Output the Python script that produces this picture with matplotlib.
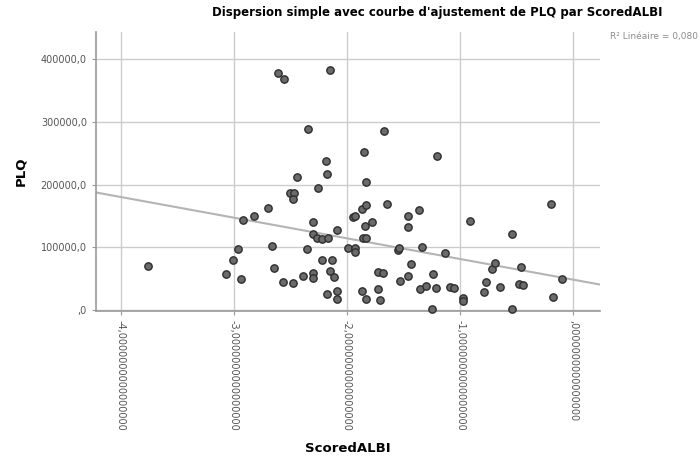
import numpy as np
import matplotlib
matplotlib.use("Agg")
import matplotlib.pyplot as plt
from matplotlib.ticker import FuncFormatter

# ---------- data ----------
score_albi = [
    -3.763, -3.073, -3.012, -2.967, -2.941, -2.923, -2.821, -2.702, -2.667, -2.649,
    -2.614, -2.555, -2.564, -2.502, -2.472, -2.481, -2.476, -2.443, -2.387, -2.357,
    -2.346, -2.304, -2.304, -2.299, -2.299, -2.260, -2.263, -2.225, -2.222, -2.187,
    -2.178, -2.172, -2.175, -2.151, -2.149, -2.134, -2.113, -2.087, -2.089, -2.089,
    -1.992, -1.945, -1.930, -1.930, -1.930, -1.871, -1.871, -1.857, -1.833, -1.851,
    -1.842, -1.836, -1.836, -1.836, -1.777, -1.729, -1.680, -1.724, -1.706, -1.676,
    -1.647, -1.550, -1.538, -1.532, -1.462, -1.459, -1.459, -1.432, -1.367, -1.355,
    -1.335, -1.298, -1.245, -1.236, -1.211, -1.203, -1.132, -1.090, -1.055, -0.971,
    -0.973, -0.909, -0.792, -0.767, -0.714, -0.694, -0.648, -0.542, -0.542, -0.483,
    -0.443, -0.460, -0.193, -0.175, -0.100,
]
plq = [
    70180, 56940, 79750, 96820, 49440, 144030, 150410, 162210, 102080, 66510,
    377540, 368440, 45140, 187090, 186140, 177520, 43540, 212140, 54230, 96820,
    288210, 140360, 121220, 59490, 50560, 194590, 114360, 113720, 79270, 237170,
    216920, 115320, 25040, 382320, 62200, 79270, 52630, 128080, 30300, 18020,
    98890, 148810, 149930, 99690, 92510, 160610, 30300, 115640, 115640, 251530,
    134460, 204640, 168270, 18020, 140360, 60610, 58540, 33020, 15470, 285980,
    169870, 95220, 99370, 47050, 132390, 150410, 54710, 74170, 160300, 33020,
    100490, 37800, 2070, 57420, 35090, 246110, 90440, 37160, 35090, 19940,
    14830, 141950, 28710, 44180, 64920, 74490, 37160, 120740, 1600, 42270,
    40190, 68110, 169070, 21210, 49920,
]
x_ticks = [-4, -3, -2, -1, 0]
y_ticks = [0, 100000, 200000, 300000, 400000]
r2_label = "R² Linéaire = 0,080"

x = np.array(score_albi)
y = np.array(plq)
slope, intercept = np.polyfit(x, y, 1)

fig = plt.figure(figsize=(7, 4.63), dpi=100)
ax = fig.add_axes([0.137, 0.328, 0.72, 0.603])

ax.set_xlim(-4.22, 0.236)
ax.set_ylim(-1600, 443400)

# grid
ax.set_xticks(x_ticks)
ax.set_yticks(y_ticks)
ax.grid(True, color="#cccccc", lw=1)
ax.set_axisbelow(True)

# fit line
xl = np.array(ax.get_xlim())
ax.plot(xl, intercept + slope * xl, color="#b4b4b4", lw=1.5, zorder=2)

# points
ax.scatter(x, y, s=28, facecolor="#6a6a6a", edgecolor="#2e2e2e", lw=1.0,
           zorder=3, clip_on=False)

for s in ["top", "right"]:
    ax.spines[s].set_visible(False)
for s in ["left", "bottom"]:
    ax.spines[s].set_color("#9a9a9a")
    ax.spines[s].set_linewidth(1.2)


def fmt_y(v, pos):
    if v == 0:
        return ",0"
    return f"{v:.1f}".replace(".", ",")


def fmt_x(v, pos):
    s = f"{v:.16f}".replace(".", ",")
    if s.startswith("0,"):
        s = s[1:]
    elif s.startswith("-0,"):
        s = "-" + s[2:]
    return s


ax.yaxis.set_major_formatter(FuncFormatter(fmt_y))
ax.xaxis.set_major_formatter(FuncFormatter(fmt_x))
ax.tick_params(axis="both", colors="#9a9a9a", labelcolor="#555555",
               labelsize=7, length=3)
for lab in ax.get_xticklabels():
    lab.set_rotation(270)
    lab.set_va("top")
    lab.set_ha("center")

ax.set_ylabel("PLQ", fontsize=9.5, fontweight="bold", labelpad=10)
ax.set_xlabel("ScoredALBI", fontsize=9.5, fontweight="bold", labelpad=8)

fig.text(0.624, 0.972, "Dispersion simple avec courbe d'ajustement de PLQ par ScoredALBI",
         ha="center", va="center", fontsize=8.5, fontweight="bold")
fig.text(0.997, 0.922, r2_label, ha="right", va="center", fontsize=6.5,
         color="#8c8c8c")

fig.savefig("out.png", dpi=100)
